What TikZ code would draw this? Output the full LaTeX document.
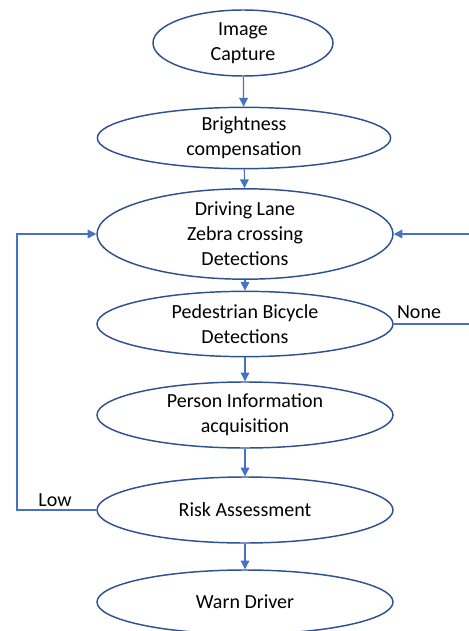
\documentclass[tikz,border=0pt]{standalone}
\usepackage{fontspec}
\setmainfont{Carlito}
\usetikzlibrary{shapes.geometric,arrows.meta}
\definecolor{ellblue}{HTML}{2F528F}
\definecolor{arrblue}{HTML}{4472C4}
\begin{document}
\begin{tikzpicture}[x=0.75pt,y=-0.75pt,
  proc/.style={ellipse, draw=ellblue, line width=1.1pt, align=center, inner sep=0pt,
    font=\fontsize{15}{18.75}\selectfont},
  conn/.style={draw=arrblue, line width=0.9pt, -{Triangle[length=6.5pt,width=6.5pt]}},
  lbl/.style={font=\fontsize{15}{18}\selectfont, inner sep=0pt}]
\useasboundingbox (0,0) rectangle (468,631);
\node[proc, minimum width=135pt, minimum height=49.5pt] (cap) at (243,43) {Image\\Capture};
\node[proc, minimum width=220pt, minimum height=46pt] (bri) at (244,138) {Brightness\\compensation};
\node[proc, minimum width=222pt, minimum height=54pt] (drv) at (245,234) {Driving Lane\\Zebra crossing\\Detections};
\node[proc, minimum width=222pt, minimum height=49pt] (ped) at (245,324) {Pedestrian Bicycle\\Detections};
\node[proc, minimum width=222pt, minimum height=49.5pt] (per) at (245,415) {Person Information\\acquisition};
\node[proc, minimum width=222pt, minimum height=49.5pt] (risk) at (245,510) {Risk Assessment};
\node[proc, minimum width=222pt, minimum height=48pt] (warn) at (245,602) {Warn Driver};
\draw[conn] (cap) -- (bri);
\draw[conn] (bri) -- (drv);
\draw[conn] (drv) -- (ped);
\draw[conn] (ped) -- (per);
\draw[conn] (per) -- (risk);
\draw[conn] (risk) -- (warn);
\coordinate (ll) at (17,510);
\coordinate (lu) at (17,234);
\draw[conn] (risk.west) -- (ll) -- (lu) -- (drv.west);
\coordinate (rl) at (476,324);
\coordinate (ru) at (476,234);
\draw[conn] (ped.east) -- (rl) -- (ru) -- (drv.east);
\node[lbl] (low) at (55,500) {Low};
\node[lbl] (none) at (419,312) {None};
\end{tikzpicture}
\end{document}
